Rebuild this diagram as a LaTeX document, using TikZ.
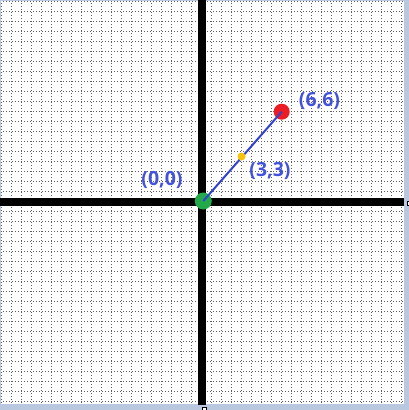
\documentclass[tikz,border=0pt]{standalone}
\usepackage{fontspec}
\newfontfamily\lblfont{Open Sans}
\definecolor{gridgray}{HTML}{5C5C5C}
\definecolor{framecol}{HTML}{B9C8DE}
\definecolor{lblblue}{HTML}{4252DC}
\definecolor{segblue}{HTML}{3341CF}
\definecolor{ptgreen}{HTML}{22AA4A}
\definecolor{ptred}{HTML}{EC1C24}
\definecolor{ptyellow}{HTML}{F7C20A}
\tikzset{
  x=1pt, y=-1pt,
  gridline/.style={draw=gridgray, line width=1pt, dash pattern=on 1pt off 2pt},
  axisline/.style={draw=black, line width=8pt},
  dot/.style={circle, inner sep=0pt, minimum size=#1},
  lbl/.style={text=lblblue, font=\lblfont\bfseries\fontsize{19.5}{22}\selectfont, inner sep=0pt},
  segment/.style={draw=segblue, line width=2pt}
}
\begin{document}
\begin{tikzpicture}
\useasboundingbox (0,0) rectangle (409,410);
\fill[white] (0,0) rectangle (409,410);
% grid
\foreach \k in {0,...,40} {
  \draw[gridline] (1.5+10*\k,0) -- (1.5+10*\k,404);
  \draw[gridline] (0,1.5+10*\k) -- (404,1.5+10*\k);
}
% frame
\fill[framecol] (0,404) rectangle (409,410);
\fill[framecol] (404,0) rectangle (409,410);
\draw[framecol, line width=1pt] (0,0.5) -- (409,0.5);
\draw[framecol, line width=1pt] (0.5,0) -- (0.5,410);
% axes
\draw[axisline] (202,0) -- (202,405);
\draw[axisline] (0,201.5) -- (404,201.5);
% small ticks on frame
\draw[black, fill=white, line width=0.8pt] (202.5,410) rectangle (206.5,407.4);
\draw[black, fill=white, line width=0.8pt] (409,201.5) rectangle (407.4,205.5);
% points
\node[dot=17pt, fill=ptgreen] (o) at (203.3,201) {};
\node[dot=16pt, fill=ptred] (p6) at (281.7,111.7) {};
\draw[segment] (o.center) -- (p6.center);
\node[dot=8pt, fill=ptyellow] (p3) at (241.5,156.5) {};
% labels
\node[lbl] (l0) at (162,180) {(0,0)};
\node[lbl] (l3) at (270,171) {(3,3)};
\node[lbl] (l6) at (319.5,101) {(6,6)};
\end{tikzpicture}
\end{document}
